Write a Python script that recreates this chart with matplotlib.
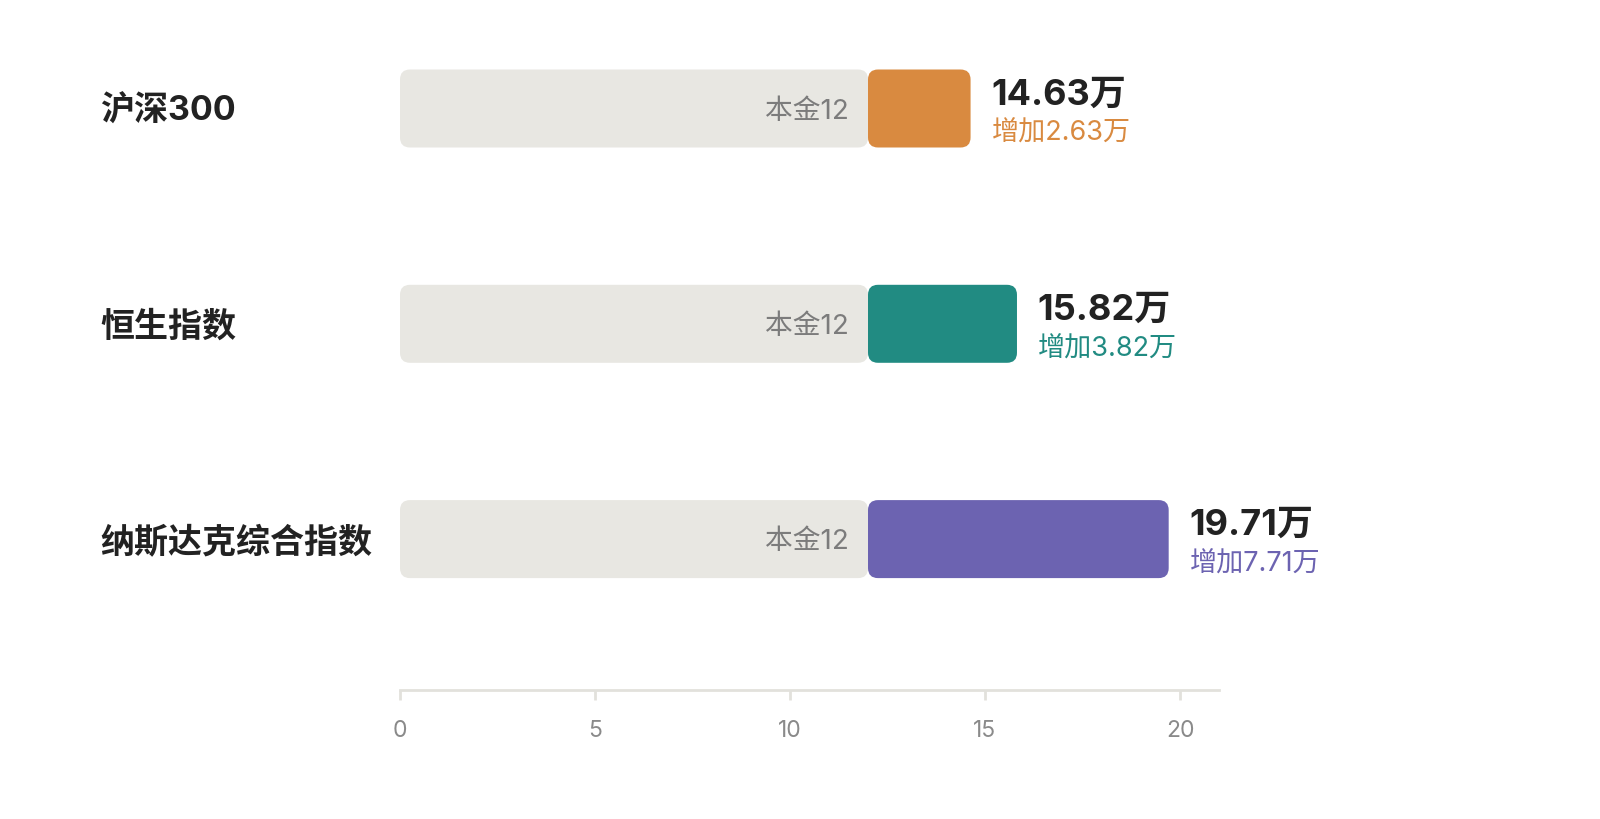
import matplotlib
matplotlib.use("Agg")
import matplotlib.pyplot as plt
from matplotlib.patches import FancyBboxPatch

plt.rcParams['font.family'] = ['Inter', 'Noto Sans CJK SC', 'DejaVu Sans']

# data
names = ["沪深300", "恒生指数", "纳斯达克综合指数"]
principal = [12, 12, 12]
finals = [14.63, 15.82, 19.71]
colors = ["#D98A40", "#218B82", "#6C63B1"]
xticks = [0, 5, 10, 15, 20]

GREY = "#E8E7E2"
DARK = "#222222"

W, H = 1600, 820
x0_px, x1_px = 400, 1219      # x = 0 .. 21
row0_px, row_step = 109.5, 215.3
axis_px = 691

fig = plt.figure(figsize=(16, 8.2), dpi=100)
top_px = row0_px - 0.5 * row_step
ax = fig.add_axes([x0_px / W, (H - axis_px) / H, (x1_px - x0_px) / W, (axis_px - top_px) / H])
ymax = 2 + (axis_px - (row0_px + 2 * row_step)) / row_step
ax.set_xlim(0, 21)
ax.set_ylim(ymax, -0.5)

px_x = (x1_px - x0_px) / 21.0
px_y = row_step
bar_h = 78 / px_y
r_px = 10
aspect = px_x / px_y


def rounded_bar(a, b, y, color):
    p = FancyBboxPatch((a, y - bar_h / 2), b - a, bar_h,
                       boxstyle="round,pad=0,rounding_size=%f" % (r_px / px_x),
                       mutation_aspect=aspect, fc=color, ec="none", zorder=2)
    ax.add_patch(p)


for i, (name, base, fin, col) in enumerate(zip(names, principal, finals, colors)):
    rounded_bar(0, base, i, GREY)
    rounded_bar(base, fin, i, col)
    ax.annotate("本金%d" % base, (base, i), xytext=(-14, -1.5), textcoords="offset points",
                ha="right", va="center", fontsize=20, color="#7c7c7c")
    ax.annotate("%.2f万" % fin, (fin, i), xytext=(15, 10.5), textcoords="offset points",
                ha="left", va="center", fontsize=26, fontweight="bold", color=DARK)
    ax.annotate("增加%.2f万" % (fin - base), (fin, i), xytext=(15, -17.5), textcoords="offset points",
                ha="left", va="center", fontsize=19.5, color=col)
    fig.text(100 / W, 1 - (row0_px + 2.5 + i * row_step) / H, name, ha="left", va="center",
             fontsize=24.5, fontweight="bold", color=DARK)

for s in ["top", "right", "left"]:
    ax.spines[s].set_visible(False)
ax.spines["bottom"].set_color("#E2E1DC")
ax.spines["bottom"].set_linewidth(2)
ax.set_yticks([])
ax.set_xticks(xticks)
ax.tick_params(axis="x", colors="#E2E1DC", width=2, length=7, pad=14,
               labelcolor="#8a8a8a", labelsize=16.5)

fig.savefig("out.png", dpi=100, facecolor="white")
